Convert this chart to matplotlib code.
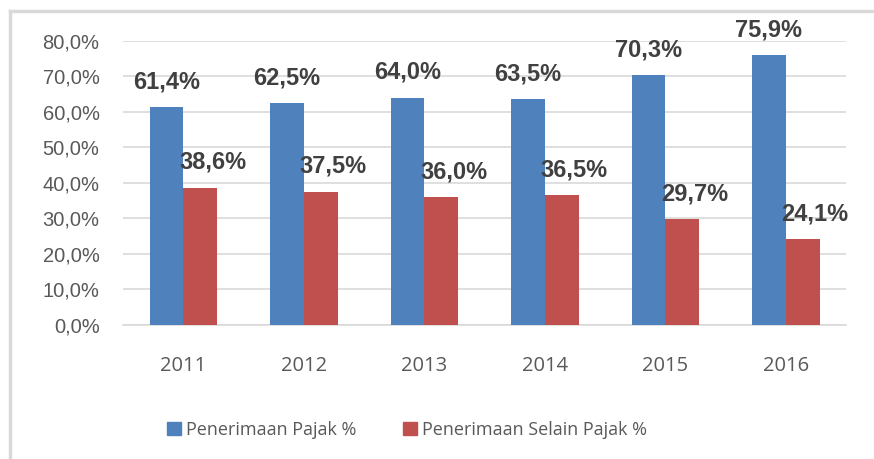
import matplotlib.pyplot as plt
import numpy as np
from matplotlib.patches import Patch
from matplotlib.lines import Line2D

years = ['2011', '2012', '2013', '2014', '2015', '2016']
pajak = [61.4, 62.5, 64.0, 63.5, 70.3, 75.9]
selain_pajak = [38.6, 37.5, 36.0, 36.5, 29.7, 24.1]
legend_labels = ['Penerimaan Pajak %', 'Penerimaan Selain Pajak %']

BLUE = '#4F81BD'
RED = '#C0504D'
GRID = '#D9D9D9'
TXT = '#595959'

fig = plt.figure(figsize=(8.74, 4.59), dpi=100)
ax = fig.add_axes([0.141, 0.292, 0.827, 0.619])

x = np.arange(len(years))
w = 0.28
ax.bar(x - w / 2, pajak, w, color=BLUE, zorder=3)
ax.bar(x + w / 2, selain_pajak, w, color=RED, zorder=3)

def fmt(v):
    return f"{v:.1f}%".replace('.', ',')

# label angka di atas batang
for xi, v in zip(x, pajak):
    ax.annotate(fmt(v), (xi - w / 2, v), xytext=(0, 10), textcoords='offset points',
                ha='center', va='bottom', fontsize=17, fontweight='bold',
                color='#404040', family='Liberation Sans')
for xi, v in zip(x, selain_pajak):
    ax.annotate(fmt(v), (xi + w / 2, v), xytext=(9, 10), textcoords='offset points',
                ha='center', va='bottom', fontsize=17, fontweight='bold',
                color='#404040', family='Liberation Sans')

ax.set_xlim(-0.5, len(years) - 0.5)
ax.set_ylim(0, 80)
ax.set_yticks(range(0, 81, 10))
ax.set_yticklabels([fmt(t) for t in range(0, 81, 10)], family='Liberation Sans',
                   fontsize=14.5, color=TXT)
ax.set_xticks(x)
ax.set_xticklabels(years, family='Open Sans', fontsize=14.5, color=TXT)
ax.tick_params(axis='both', length=0)
ax.tick_params(axis='y', pad=17)
ax.tick_params(axis='x', pad=22)
ax.grid(axis='y', color=GRID, linewidth=1.2, zorder=0)
for s in ['left', 'right', 'top']:
    ax.spines[s].set_visible(False)
ax.spines['bottom'].set_color(GRID)
ax.spines['bottom'].set_linewidth(1.2)

handles = [Patch(color=BLUE), Patch(color=RED)]
fig.legend(handles, legend_labels, loc='center', bbox_to_anchor=(0.466, 0.063),
           ncol=2, frameon=False, handlelength=0.75, handleheight=0.75,
           handletextpad=0.3, columnspacing=2.6,
           prop={'family': 'Open Sans', 'size': 13}, labelcolor=TXT)

# garis tepi area grafik
fig.add_artist(Line2D([0.012, 0.012], [0, 0.976], color=GRID, linewidth=2.5))
fig.add_artist(Line2D([0.012, 1.0], [0.976, 0.976], color=GRID, linewidth=2.5))

fig.savefig('out.png', dpi=100)
plt.close(fig)
